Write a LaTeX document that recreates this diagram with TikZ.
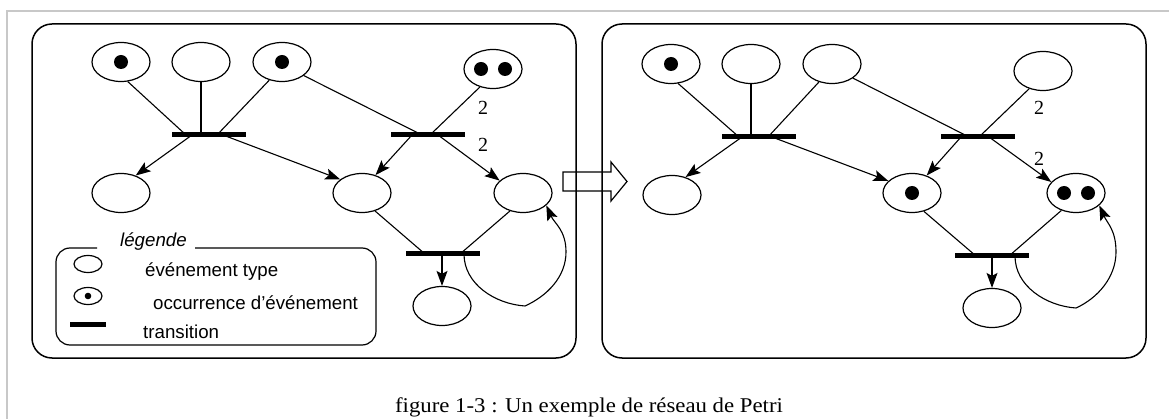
\documentclass[tikz,border=0pt]{standalone}
\usepackage{fontspec}
\setmainfont{Liberation Serif}
\setsansfont{Liberation Sans}
\usetikzlibrary{arrows.meta,shapes.geometric}
\definecolor{framegray}{RGB}{200,200,200}

\tikzset{
  place/.style={draw, ellipse, minimum width=58pt, minimum height=39pt, inner sep=0pt, line width=1.2pt},
  trans/.style={fill=black, rectangle, minimum width=74pt, minimum height=5pt, inner sep=0pt},
  arc/.style={line width=1.1pt},
  flow/.style={line width=1.1pt, -{Stealth[length=15pt,width=11pt,inset=3pt]}},
  weight/.style={font=\fontsize{20}{20}\selectfont, inner sep=0pt},
  panel/.style={draw, line width=1.5pt, rounded corners=20pt},
  legtext/.style={anchor=base west, font=\sffamily\fontsize{18.7}{20}\selectfont, inner sep=0pt},
}

\begin{document}
\begin{tikzpicture}[x=1pt,y=-1pt]
\useasboundingbox (0,0) rectangle (1169,419);

% page frame
\draw[line width=2pt, framegray] (7,419) -- (7,11) -- (1169,11);

% the two panels
\draw[panel] (32,24) rectangle (576,358);
\draw[panel] (602,24) rectangle (1146,358);

% hollow arrow between the panels
\draw[line width=1.2pt] (563,172) -- (611,172) -- (611,162) -- (627,181.5) -- (611,201) -- (611,191) -- (563,191) -- cycle;

% ---------- net before firing ----------
\node[place] (A1) at (121,62) {};
\node[place] (A2) at (201,62) {};
\node[place] (A3) at (282,62) {};
\node[place] (A4) at (493,69) {};
\node[trans] (T1) at (209,135) {};
\node[trans] (T2) at (428,135) {};
\node[place] (B1) at (121,193) {};
\node[place] (B2) at (362,193) {};
\node[place] (B3) at (523,193) {};
\node[trans] (T3) at (442.5,254) {};
\node[place] (C1) at (442,306) {};

\fill (A1.center) circle (7pt);
\fill (A3.center) circle (7pt);
\fill ([xshift=-12pt]A4.center) circle (7pt);
\fill ([xshift=12pt]A4.center) circle (7pt);

\draw[arc] (A1.-71) -- ([xshift=-23pt]T1.center);
\draw[arc] (A2.south) -- (A2.south |- T1.center);
\draw[arc] (A3.-125) -- ([xshift=8pt]T1.center);
\draw[arc] (A3.-32) -- ([xshift=-6pt]T2.center);
\draw[arc] (A4.-126) -- ([xshift=2pt]T2.center);
\draw[flow] ([xshift=-17pt]T1.center) -- (B1.50);
\draw[flow] ([xshift=14pt]T1.center) -- (B2.148);
\draw[flow] ([xshift=-16pt]T2.center) -- (B2.53);
\draw[flow] ([xshift=10pt]T2.center) -- (B3.152);
\draw[arc] (B2.-54) -- ([xshift=-17.5pt]T3.center);
\draw[arc] (B3.-126) -- ([xshift=17.5pt]T3.center);
\draw[flow] (C1.north |- T3.center) -- (C1.north);
\coordinate (K1) at (525,306);
\coordinate (R1) at (566,252);
\draw[flow] ([xshift=21.5pt]T3.center) .. controls +(0,30) and +(-30,-2) .. (K1)
  .. controls +(22,-10) and +(0,25) .. (R1)
  .. controls +(0,-22) and +(8,18) .. (B3.-28);

\node[weight] (w1) at (483,108) {2};
\node[weight] (w2) at (483,145) {2};

% legend
\draw[line width=1.2pt, rounded corners=14pt] (97,248) -- (56,248) -- (56,345) -- (376,345) -- (376,248) -- (195,248);
\node[legtext, font=\sffamily\itshape\fontsize{18.7}{20}\selectfont] (lg) at (120,247) {légende};
\node[place, minimum width=28pt, minimum height=17pt] (L1) at (88,264) {};
\node[place, minimum width=28pt, minimum height=17pt] (L2) at (88,296) {};
\fill (L2.center) circle (3.3pt);
\node[trans, minimum width=36pt] (L3) at (88,325) {};
\node[legtext] (lt1) at (145,277) {événement type};
\node[legtext] (lt2) at (153,309) {occurrence d’événement};
\node[legtext] (lt3) at (143,338) {transition};

% ---------- net after firing ----------
\node[place] (RA1) at (671,64) {};
\node[place] (RA2) at (751,64) {};
\node[place] (RA3) at (832,64) {};
\node[place] (RA4) at (1043,71) {};
\node[trans] (RT1) at (759,137) {};
\node[trans] (RT2) at (977.5,137) {};
\node[place] (RB1) at (672,195) {};
\node[place] (RB2) at (912,193) {};
\node[place] (RB3) at (1076,193) {};
\node[trans] (RT3) at (992,256) {};
\node[place] (RC1) at (992,308) {};

\fill (RA1.center) circle (7pt);
\fill (RB2.center) circle (7pt);
\fill ([xshift=-12pt]RB3.center) circle (7pt);
\fill ([xshift=12pt]RB3.center) circle (7pt);

\draw[arc] (RA1.-70) -- ([xshift=-20pt]RT1.center);
\draw[arc] (RA2.south) -- (RA2.south |- RT1.center);
\draw[arc] (RA3.-126) -- ([xshift=9pt]RT1.center);
\draw[arc] (RA3.-34) -- ([xshift=-8.5pt]RT2.center);
\draw[arc] (RA4.-128) -- ([xshift=1.5pt]RT2.center);
\draw[flow] ([xshift=-17pt]RT1.center) -- (RB1.53);
\draw[flow] ([xshift=13pt]RT1.center) -- (RB2.153);
\draw[flow] ([xshift=-16.5pt]RT2.center) -- (RB2.50);
\draw[flow] ([xshift=11.5pt]RT2.center) -- (RB3.156);
\draw[arc] (RB2.-57) -- ([xshift=-16pt]RT3.center);
\draw[arc] (RB3.-130) -- ([xshift=17pt]RT3.center);
\draw[flow] (RC1.north |- RT3.center) -- (RC1.north);
\coordinate (K2) at (1076,308);
\coordinate (R2) at (1116,252);
\draw[flow] ([xshift=23pt]RT3.center) .. controls +(0,30) and +(-30,-2) .. (K2)
  .. controls +(22,-10) and +(0,25) .. (R2)
  .. controls +(0,-22) and +(8,18) .. (RB3.-28);

\node[weight] (rw1) at (1039,108) {2};
\node[weight] (rw2) at (1039,159) {2};

% caption
\node[anchor=base, font=\fontsize{21}{22}\selectfont, inner sep=0pt] (cap) at (589,412)
  {\scalebox{1.085}[1]{figure 1-3 : Un exemple de réseau de Petri}};
\end{tikzpicture}
\end{document}
